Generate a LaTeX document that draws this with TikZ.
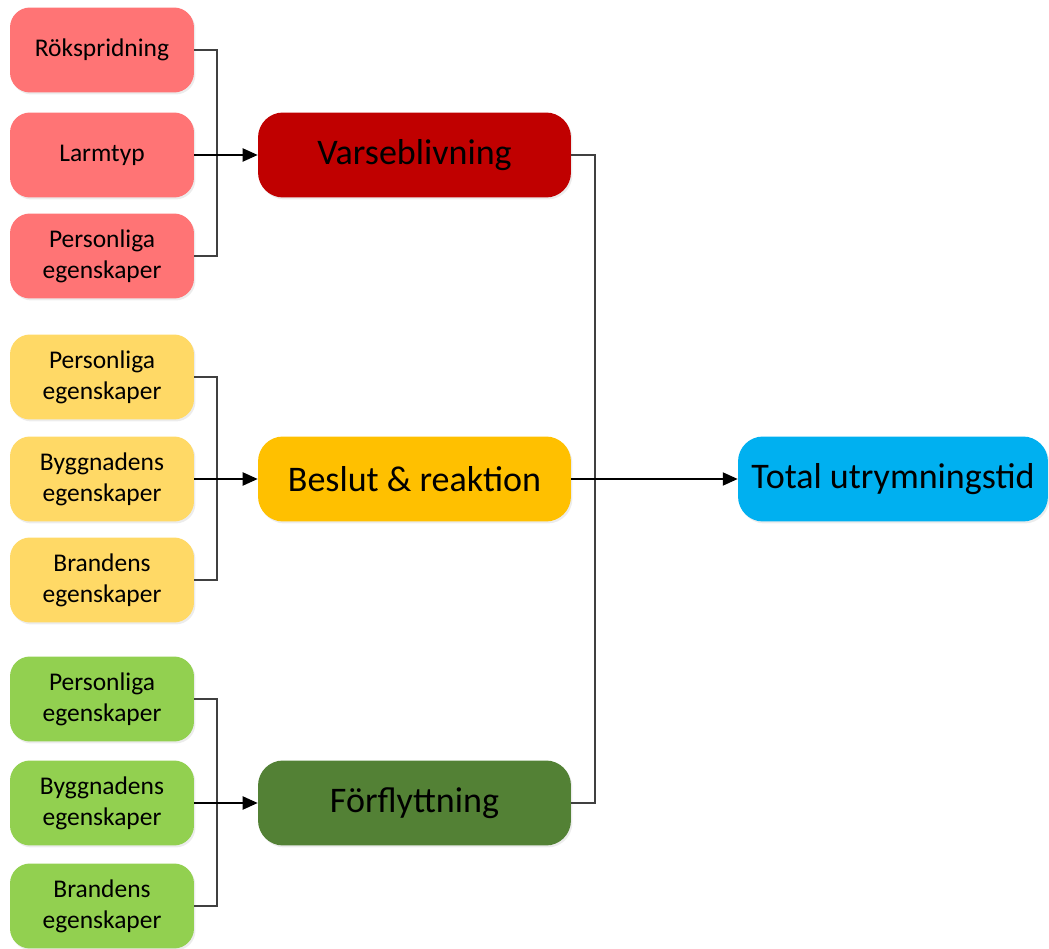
\documentclass[tikz,border=0pt]{standalone}
\usepackage{fontspec}
\setmainfont{Carlito}
\usetikzlibrary{arrows.meta}
\usetikzlibrary{shadows}
\definecolor{redlight}{HTML}{FF7475}
\definecolor{reddark}{HTML}{C00000}
\definecolor{yellowlight}{HTML}{FFD966}
\definecolor{yellowdark}{HTML}{FFC000}
\definecolor{greenlight}{HTML}{92D050}
\definecolor{greendark}{HTML}{538135}
\definecolor{bluetotal}{HTML}{00B0F0}
\tikzset{factor/.style={rounded corners=0.4cm, minimum width=3.68cm, minimum height=1.7cm,
   align=center, inner sep=0pt, font=\fontsize{14.5}{17.6}\selectfont,
   drop shadow={opacity=0.15, shadow xshift=0.03cm, shadow yshift=-0.04cm}},
 phase/.style={rounded corners=0.5cm, minimum width=6.26cm, minimum height=1.7cm,
   inner sep=0pt, font=\fontsize{20.5}{24}\selectfont,
   drop shadow={opacity=0.15, shadow xshift=0.03cm, shadow yshift=-0.04cm}},
 link/.style={draw=black!75, line width=0.6pt},
 feed/.style={draw=black, line width=0.8pt, -{Triangle[length=8.5pt, width=7.5pt]}},
 }

\begin{document}
\begin{tikzpicture}[x=0.02cm, y=-0.02cm]
        \useasboundingbox (0,0) rectangle (1049,949);

        % varseblivning
        \node[factor, fill=redlight] (rok) at (102, 50) {Rökspridning};
        \node[factor, fill=redlight] (larm) at (102, 155) {Larmtyp};
        \node[factor, fill=redlight] (rpers) at (102, 256) {Personliga\\egenskaper};
        \node[phase, fill=reddark] (varse) at (414.5, 155) {Varseblivning};

        % beslut
        \node[factor, fill=yellowlight] (ypers) at (102, 377) {Personliga\\egenskaper};
        \node[factor, fill=yellowlight] (ybygg) at (102, 479) {Byggnadens\\egenskaper};
        \node[factor, fill=yellowlight] (ybrand) at (102, 580) {Brandens\\egenskaper};
        \node[phase, fill=yellowdark] (beslut) at (414.5, 479) {Beslut \& reaktion};

        % forflyttning
        \node[factor, fill=greenlight] (gpers) at (102, 699) {Personliga\\egenskaper};
        \node[factor, fill=greenlight] (gbygg) at (102, 803) {Byggnadens\\egenskaper};
        \node[factor, fill=greenlight] (gbrand) at (102, 906) {Brandens\\egenskaper};
        \node[phase, fill=greendark] (forfl) at (414.5, 803) {Förflyttning};

        \node[phase, fill=bluetotal, minimum width=6.2cm] (total) at (893, 479) {Total utrymningstid};

        \coordinate (rj) at (217, 155);
        \coordinate (yj) at (217, 479);
        \coordinate (gj) at (217, 803);
        \coordinate (tj) at (595, 479);

        \draw[link] (rok.east) -| (rj) |- (rpers.east);
        \draw[feed] (larm.east) -- (varse.west);
        \draw[link] (ypers.east) -| (yj) |- (ybrand.east);
        \draw[feed] (ybygg.east) -- (beslut.west);
        \draw[link] (gpers.east) -| (gj) |- (gbrand.east);
        \draw[feed] (gbygg.east) -- (forfl.west);

        \draw[link] (varse.east) -| (tj) |- (forfl.east);
        \draw[feed] (beslut.east) -- (total.west);
\end{tikzpicture}
\end{document}
